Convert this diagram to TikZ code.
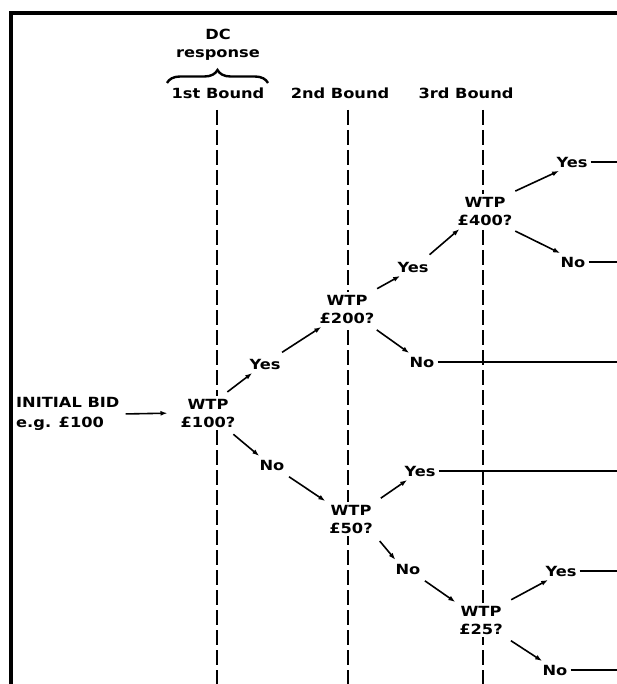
\documentclass[tikz,border=0pt]{standalone}
\usepackage{fontspec}
\setmainfont{DejaVu Sans}[FakeStretch=1.16]
\usetikzlibrary{arrows.meta,positioning,decorations.pathreplacing}
\newcommand{\diagfont}{\fontsize{14}{18}\selectfont\bfseries}

\begin{document}
\begin{tikzpicture}[x=1pt, y=-1pt,
    wtpbox/.style={align=center, fill=white, inner sep=3pt, font=\diagfont},
    ansbox/.style={inner sep=3pt, font=\diagfont},
    boundlbl/.style={align=center, font=\diagfont},
    arr/.style={-{Latex[length=7pt,width=5pt]}, line width=1.6pt,
                shorten <=6pt, shorten >=1pt},
    outline/.style={line width=1.6pt},
    guide/.style={line width=1.8pt, dash pattern=on 15pt off 5pt},
    frame/.style={line width=3.5pt}
  ]
    \useasboundingbox (0,0) rectangle (616,684);
    % Frame
    \draw[frame] (11,690) -- (11,13) -- (620,13);

    % Header
    \node[boundlbl] (dcresp) at (218,45) {DC\\response};
    \draw[line width=2.4pt, decorate, decoration={brace, amplitude=13pt}]
      (167,83) -- (268,83);
    \node[boundlbl] (bound1) at (218,93) {1st Bound};
    \node[boundlbl] (bound2) at (340,93) {2nd Bound};
    \node[boundlbl] (bound3) at (466,93) {3rd Bound};

    % Bound guides
    \foreach \gx in {217,348,483}
      \draw[guide] (\gx,110) -- (\gx,690);

    \coordinate (rim) at (620,0);

    % Initial bid
    \node[anchor=west, align=left, inner sep=3pt, font=\fontsize{14}{20}\selectfont\bfseries]
      (init) at (13,414) {INITIAL BID\\e.g. £100};
    \node[wtpbox] (w100) at (208,413) {WTP\\£100?};
    \draw[arr, shorten <=3pt, shorten >=10pt] (init.east) -- (w100.west);

    % Yes branch
    \node[ansbox] (y1)   at (265,364) {Yes};
    \node[wtpbox] (w200) at (347,309) {WTP\\£200?};
    \node[ansbox] (y2)   at (413,267) {Yes};
    \node[ansbox] (n2)   at (422,362) {No};
    \node[wtpbox] (w400) at (485,211) {WTP\\£400?};
    \node[ansbox] (y4)   at (572,162) {Yes};
    \node[ansbox] (n4)   at (573,262) {No};
    \draw[arr] (w100.50)  -- (y1.215);
    \draw[arr] (y1.35)    -- (w200.215);
    \draw[arr] (w200.35)  -- (y2.215);
    \draw[arr] (w200.-35) -- (n2.145);
    \draw[arr] (y2.35)    -- (w400.215);
    \draw[arr] (w400.35)  -- (y4.215);
    \draw[arr] (w400.-35) -- (n4.145);

    % No branch
    \node[ansbox] (n1)  at (272,465) {No};
    \node[wtpbox] (w50) at (351,519) {WTP\\£50?};
    \node[ansbox] (y3)  at (420,471) {Yes};
    \node[ansbox] (n3)  at (408,569) {No};
    \node[wtpbox] (w25) at (481,620) {WTP\\£25?};
    \node[ansbox] (y5)  at (561,571) {Yes};
    \node[ansbox] (n5)  at (555,670) {No};
    \draw[arr] (w100.-40) -- (n1.145);
    \draw[arr] (n1.-35)   -- (w50.145);
    \draw[arr] (w50.35)   -- (y3.215);
    \draw[arr] (w50.-35)  -- (n3.145);
    \draw[arr] (n3.-35)   -- (w25.145);
    \draw[arr] (w25.35)   -- (y5.215);
    \draw[arr] (w25.-35)  -- (n5.145);

    % Outcome lines
    \foreach \nd in {y4,n4,n2,y3,y5,n5}
      \draw[outline] (\nd.east) -- (\nd.east -| rim);
  \end{tikzpicture}
\end{document}
